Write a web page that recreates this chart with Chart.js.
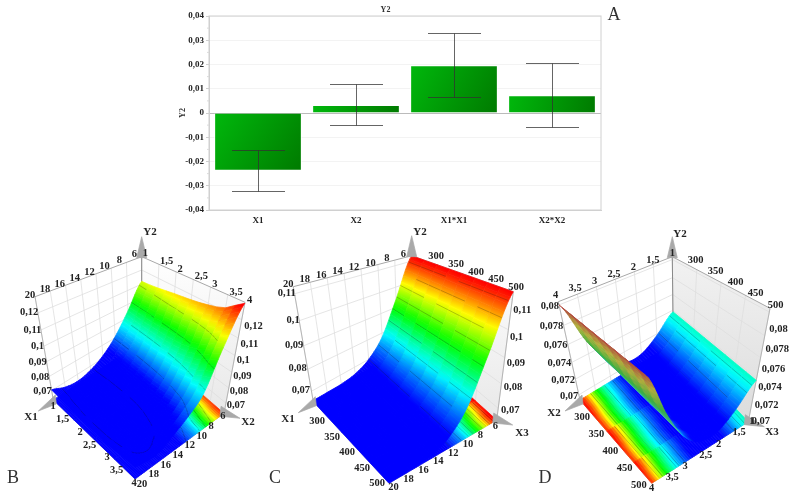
<!DOCTYPE html>
<html>
<head>
<meta charset="utf-8">
<title>Y2</title>
<script src="https://cdn.jsdelivr.net/npm/chart.js@4/dist/chart.umd.min.js"></script>
<style>
html, body { margin: 0; background: #fff; }
canvas { position: absolute; }
#scene { left: 0; top: 0; filter: blur(0.35px); }
#bars { left: 170px; top: 0; filter: blur(0.25px); }
</style>
</head>
<body>
<canvas id="scene" width="796" height="500"></canvas>
<canvas id="bars" width="440" height="228"></canvas>
<script>
// panel A
const factors = ['X1', 'X2', 'X1*X1', 'X2*X2'];
const effects = [-0.0238, 0.0033, 0.0197, 0.0073];
const errLow = [-0.0322, -0.0051, 0.0065, -0.0058];
const errHigh = [-0.0153, 0.0118, 0.0329, 0.0206];
const effectTicks = ['0,04', '0,03', '0,02', '0,01', '0', '-0,01', '-0,02', '-0,03', '-0,04'];

// tick lists of the 3D panels
const x1Ticks = [1, 1.5, 2, 2.5, 3, 3.5, 4];
const x2Ticks = [20, 18, 16, 14, 12, 10, 8, 6];
const x3Ticks = [300, 350, 400, 450, 500];
const x2TicksD = [4, 3.5, 3, 2.5, 2, 1.5, 1];
const zTicksB = [0.07, 0.08, 0.09, 0.1, 0.11, 0.12];
const zTicksC = [0.07, 0.08, 0.09, 0.1, 0.11];
const zTicksD = [0.07, 0.072, 0.074, 0.076, 0.078, 0.08];

// surface B: rows X1 (1..4), columns "20..6"
const surfaceB = [
  [0.0705, 0.0665, 0.0650, 0.0670, 0.0720, 0.0810, 0.0950, 0.1120],
  [0.0695, 0.0660, 0.0645, 0.0665, 0.0715, 0.0805, 0.0950, 0.1135],
  [0.0690, 0.0655, 0.0640, 0.0660, 0.0715, 0.0805, 0.0955, 0.1155],
  [0.0690, 0.0655, 0.0640, 0.0660, 0.0715, 0.0810, 0.0965, 0.1170],
  [0.0690, 0.0660, 0.0650, 0.0670, 0.0725, 0.0825, 0.0985, 0.1190],
  [0.0700, 0.0670, 0.0665, 0.0690, 0.0750, 0.0850, 0.1030, 0.1220],
  [0.0710, 0.0690, 0.0695, 0.0745, 0.0800, 0.0885, 0.1100, 0.1285]
];
// surface C: rows X3 (300..500), columns "20..6"
const surfaceC = [
  [0.0655, 0.0655, 0.0655, 0.0665, 0.0700, 0.0780, 0.0940, 0.1125],
  [0.0655, 0.0655, 0.0655, 0.0665, 0.0700, 0.0780, 0.0940, 0.1125],
  [0.0655, 0.0655, 0.0655, 0.0665, 0.0700, 0.0780, 0.0940, 0.1125],
  [0.0655, 0.0655, 0.0655, 0.0665, 0.0700, 0.0780, 0.0940, 0.1125],
  [0.0655, 0.0655, 0.0655, 0.0665, 0.0700, 0.0780, 0.0940, 0.1125]
];
// surface D: rows X3 (300..500), columns X2 (4..1)
const surfaceD = [
  [0.0800, 0.0755, 0.0722, 0.0706, 0.0705, 0.0718, 0.0738],
  [0.0800, 0.0755, 0.0722, 0.0706, 0.0705, 0.0718, 0.0738],
  [0.0800, 0.0755, 0.0722, 0.0706, 0.0705, 0.0718, 0.0738],
  [0.0800, 0.0755, 0.0722, 0.0706, 0.0705, 0.0718, 0.0738],
  [0.0800, 0.0755, 0.0722, 0.0706, 0.0705, 0.0718, 0.0738]
];
const contoursB = [0.0675, 0.08, 0.09, 0.1, 0.11];
const contoursC = [0.07, 0.075, 0.08, 0.085, 0.09, 0.095, 0.1, 0.105, 0.11];
const contoursD = [0.0712, 0.072, 0.073, 0.0735, 0.075, 0.076, 0.077, 0.078];

// label rows are [first tick, last tick] anchors, in 3x units from the panel's crop origin
const panels = [
  {
    table: surfaceB, uTicks: x1Ticks, vTicks: x2Ticks, zTicks: zTicksB, levels: contoursB,
    zBox: [0.063, 0.129], zColor: [0.075, 0.127], persp: 0.85, origin: [0, 225],
    floor: [[53.3, 400], [135, 479], [224, 413.3], [141.7, 341.7]],
    top: [[35, 296.7], [135, 366.7], [245, 302.3], [141.7, 256.7]],
    rows: {
      topV: [[90, 212], [403, 88]], topU: [[428, 85], [741, 225]],
      frontU: [[167, 545], [410, 775]], frontV: [[410, 778], [661, 575]],
      zLeft: [[155, 500], [115, 262]], zRight: [[680, 540], [733, 305]]
    },
    names: [['Y2', 150, 232], ['X1', 31, 417], ['X2', 248, 422]], letter: ['B', 13, 478], wall: ['#fff', '#e8e8e8']
  },
  {
    table: surfaceC, uTicks: x3Ticks, vTicks: x2Ticks, zTicks: zTicksC, levels: contoursC,
    zBox: [0.065, 0.1125], zColor: [0.0695, 0.112], persp: 0.85, origin: [265, 225],
    floor: [[313.3, 401.7], [389, 483.3], [496.7, 420], [411.7, 343.3]],
    top: [[293.3, 286.7], [380, 329.7], [513.3, 291.7], [411.7, 255.7]],
    rows: {
      topV: [[70, 177], [415, 88]], topU: [[490, 95], [730, 187]],
      frontU: [[180, 590], [360, 775]], frontV: [[370, 788], [683, 605]],
      zLeft: [[135, 495], [92, 205]], zRight: [[708, 555], [745, 255]]
    },
    names: [['Y2', 420, 232], ['X1', 288, 419], ['X3', 522, 433]], letter: ['C', 275, 478], wall: ['#fff', '#e8e8e8']
  },
  {
    table: surfaceD, uTicks: x3Ticks, vTicks: x2TicksD, zTicks: zTicksD, levels: contoursD,
    zBox: [0.0693, 0.0803], zColor: [0.071, 0.0802], persp: 0.83, origin: [535, 225],
    floor: [[580, 400], [651.7, 483.3], [748.3, 421.7], [673.3, 343.3]],
    top: [[558.3, 301.7], [646, 372], [770, 308.3], [672.3, 256.7]],
    rows: {
      topV: [[62, 210], [412, 85]], topU: [[458, 105], [698, 240]],
      frontU: [[165, 578], [335, 780]], frontV: [[342, 790], [643, 590]],
      zLeft: [[130, 515], [72, 245]], zRight: [[650, 590], [703, 312]]
    },
    names: [['Y2', 680, 234], ['X2', 554, 413], ['X3', 772, 432]], letter: ['D', 545, 478], wall: ['#f2f2f2', '#dcdcdc']
  }
];

const SERIF = '"Liberation Serif", serif';

// ---------- bar chart ----------
const barPlugin = {
  id: 'barExtras',
  beforeDatasetsDraw(chart) {
    const { ctx, chartArea: a, scales: { y } } = chart;
    ctx.save();
    ctx.strokeStyle = '#d0d0d0';
    ctx.strokeRect(a.left, a.top, a.width, a.height);
    // minor ticks
    ctx.strokeStyle = '#dadada';
    ctx.beginPath();
    for (let k = 0; k < effectTicks.length - 1; k++) {
      const p = y.getPixelForTick(k) + (y.getPixelForTick(k + 1) - y.getPixelForTick(k)) / 2;
      ctx.moveTo(a.left - 2, p); ctx.lineTo(a.left, p);
    }
    ctx.stroke();
    ctx.restore();
  },
  afterDatasetsDraw(chart) {
    const { ctx, scales: { x, y } } = chart;
    ctx.save();
    ctx.strokeStyle = 'rgba(50,50,50,0.75)';
    ctx.lineWidth = 1;
    factors.forEach((f, i) => {
      const px = Math.round(x.getPixelForValue(i)) + 0.5;
      const lo = Math.round(y.getPixelForValue(errLow[i])) + 0.5;
      const hi = Math.round(y.getPixelForValue(errHigh[i])) + 0.5;
      ctx.beginPath();
      ctx.moveTo(px, lo); ctx.lineTo(px, hi);
      ctx.moveTo(px - 26.5, lo); ctx.lineTo(px + 26.5, lo);
      ctx.moveTo(px - 26.5, hi); ctx.lineTo(px + 26.5, hi);
      ctx.stroke();
    });
    ctx.restore();
  }
};

new Chart(document.getElementById('bars'), {
  type: 'bar',
  plugins: [barPlugin],
  data: {
    labels: factors,
    datasets: [{
      data: effects,
      barPercentage: 0.895,
      categoryPercentage: 1,
      borderColor: 'rgba(255,255,255,0.85)',
      borderWidth: 1,
      borderSkipped: 'start',
      backgroundColor(c) {
        const { chart, dataIndex } = c;
        if (!chart.chartArea) return '#0a0';
        const mid = chart.scales.x.getPixelForValue(dataIndex);
        const y0 = chart.scales.y.getPixelForValue(effects[dataIndex]);
        const y1 = chart.scales.y.getPixelForValue(0);
        const g = chart.ctx.createLinearGradient(mid - 44, Math.min(y0, y1), mid + 44, Math.max(y0, y1));
        g.addColorStop(0, '#00b80c');
        g.addColorStop(1, '#007a00');
        return g;
      }
    }]
  },
  options: {
    responsive: false,
    animation: false,
    events: [],
    layout: { padding: { right: 9 } },
    plugins: {
      legend: false,
      tooltip: false,
      title: {
        display: true, text: 'Y2', color: '#333',
        font: { family: SERIF, size: 8, weight: 'bold', lineHeight: 1 },
        padding: { top: 6, bottom: 2 }
      }
    },
    scales: {
      x: {
        afterFit(s) { s.height = 18; },
        grid: { display: false, tickLength: 2 },
        border: { color: '#d0d0d0' },
        ticks: { color: '#222', padding: 3, font: { family: SERIF, size: 9, weight: 'bold' } }
      },
      y: {
        min: -0.04, max: 0.04,
        afterFit(s) { s.width = 39; },
        afterBuildTicks(s) { s.ticks = effectTicks.map((t, i) => ({ value: 0.04 - i * 0.01 })); },
        grid: {
          color: c => c.index === 4 ? '#bbbbbb' : '#f3f3f3',
          tickColor: '#cfcfcf', tickLength: 3
        },
        border: { color: '#d0d0d0' },
        title: {
          display: true, text: 'Y2', color: '#333',
          font: { family: SERIF, size: 8, weight: 'bold' }, padding: { top: 8, bottom: 0 }
        },
        ticks: {
          color: '#222', padding: 2, font: { family: SERIF, size: 9, weight: 'bold' },
          callback: (v, i) => effectTicks[i]
        }
      }
    }
  }
});

// ---------- 3D panels, projected onto one scatter chart ----------
const mix = (a, b, t) => a + (b - a) * t;
const RAINBOW = [[0, 0, 255], [0, 255, 255], [0, 255, 0], [255, 255, 0], [255, 0, 0]];
const sceneCtx = document.getElementById('scene').getContext('2d');

function rainbow(t, dull) {
  t = Math.max(0, Math.min(1, t)) * 4;
  const k = Math.min(3, Math.floor(t));
  const c = RAINBOW[k].map((v, n) => mix(mix(v, RAINBOW[k + 1][n], t - k), 128, dull ? 0.5 : 0) * (dull ? 0.92 : 1));
  return `rgb(${c.map(Math.round).join(',')})`;
}

function project(p, u, v, z) {
  let w = (z - p.zBox[0]) / (p.zBox[1] - p.zBox[0]);
  w = w * p.persp / (1 + w * (p.persp - 1));
  const q = corners => [0, 1].map(n => mix(
    mix(corners[0][n], corners[1][n], u),
    mix(corners[3][n], corners[2][n], u), v));
  const a = q(p.floor), b = q(p.top);
  return { x: mix(a[0], b[0], w), y: mix(a[1], b[1], w) };
}

function catmull(a, b, c, d, t) {
  return b + 0.5 * t * (c - a + t * (2 * a - 5 * b + 4 * c - d + t * (3 * (b - c) + d - a)));
}
function sample(table, fu, fv) {
  const at = (i, j) => table[Math.max(0, Math.min(table.length - 1, i))][Math.max(0, Math.min(table[0].length - 1, j))];
  const i = Math.min(table.length - 2, Math.floor(fu)), j = Math.min(table[0].length - 2, Math.floor(fv));
  const row = r => catmull(at(r, j - 1), at(r, j), at(r, j + 1), at(r, j + 2), fv - j);
  return catmull(row(i - 1), row(i), row(i + 1), row(i + 2), fu - i);
}

const layers = [];
const texts = [];

function polygon(pts, color) {
  layers.push({
    data: pts.concat([pts[0]]), showLine: true, fill: 'shape', clip: false,
    backgroundColor: color, borderColor: color, borderWidth: 0.7, pointRadius: 0
  });
}
function segment(pts, color, width) {
  layers.push({
    data: pts, showLine: true, fill: false, clip: false,
    borderColor: color, borderWidth: width, pointRadius: 0
  });
}

function isoSegment(cell, level) {
  const hits = [];
  for (let k = 0; k < 4; k++) {
    const [a, za] = cell[k], [b, zb] = cell[(k + 1) % 4];
    if ((za < level) !== (zb < level)) {
      const t = (level - za) / (zb - za);
      hits.push({ u: mix(a[0], b[0], t), v: mix(a[1], b[1], t) });
    }
  }
  return hits.length >= 2 ? hits.slice(0, 2) : null;
}

// shade a cell between the mean colours of its two v-edges
function cellShade(pts, zs, t, dull) {
  const ax = (pts[0].x + pts[1].x) / 2, ay = (pts[0].y + pts[1].y) / 2;
  const bx = (pts[2].x + pts[3].x) / 2, by = (pts[2].y + pts[3].y) / 2;
  const c0 = rainbow(t((zs[0] + zs[1]) / 2), dull), c1 = rainbow(t((zs[2] + zs[3]) / 2), dull);
  if (c0 === c1 || Math.hypot(bx - ax, by - ay) < 0.2) return c0;
  const g = sceneCtx.createLinearGradient(ax, ay, bx, by);
  g.addColorStop(0, c0);
  g.addColorStop(1, c1);
  return g;
}

function buildPanel(p) {
  const [zLo, zHi] = p.zBox;
  const [wallTop, wallLow] = p.wall;

  // back walls
  const grad = sceneCtx.createLinearGradient(0, p.top[3][1], 0, p.floor[2][1]);
  grad.addColorStop(0, wallTop);
  grad.addColorStop(1, wallLow);
  polygon([project(p, 0, 1, zLo), project(p, 1, 1, zLo), project(p, 1, 1, zHi), project(p, 0, 1, zHi)], grad);

  const gridColor = '#dedede';
  const uStep = 1 / (p.uTicks.length - 1), vStep = 1 / (p.vTicks.length - 1);
  p.vTicks.forEach((t, k) => segment([project(p, 0, k * vStep, zLo), project(p, 0, k * vStep, zHi)], gridColor, 0.8));
  p.uTicks.forEach((t, k) => segment([project(p, k * uStep, 1, zLo), project(p, k * uStep, 1, zHi)], gridColor, 0.8));
  p.zTicks.forEach(z => {
    segment([project(p, 0, 0, z), project(p, 0, 1, z)], gridColor, 0.8);
    segment([project(p, 0, 1, z), project(p, 1, 1, z)], gridColor, 0.8);
  });
  // box edges
  const edge = '#a8a8a8';
  segment([project(p, 0, 0, zHi), project(p, 0, 1, zHi), project(p, 1, 1, zHi)], edge, 1);
  segment([project(p, 0, 0, zLo), project(p, 0, 0, zHi)], edge, 0.8);
  segment([project(p, 1, 1, zLo), project(p, 1, 1, zHi)], edge, 0.8);
  segment([project(p, 0, 1, zLo), project(p, 0, 1, zHi)], '#888', 1);
  segment([project(p, 0, 0, zLo), project(p, 1, 0, zLo), project(p, 1, 1, zLo)], edge, 0.8);

  // mesh
  const rows = p.table.length - 1, cols = p.table[0].length - 1;
  const nu = rows * 2, nv = cols * 8;
  const zAt = (i, j) => sample(p.table, i / nu * rows, j / nv * cols);
  const t = z => (z - p.zColor[0]) / (p.zColor[1] - p.zColor[0]);

  const drawCells = floorMap => {
    const stepU = floorMap ? 3 : 1;
    for (let i = 0; i < nu; i += stepU) {
      for (let j = nv - 1; j >= 0; j--) {
        const i2 = Math.min(nu, i + stepU);
        const uv = [[i, j], [i2, j], [i2, j + 1], [i, j + 1]];
        const zs = uv.map(([a, b]) => zAt(a, b));
        const pts = uv.map(([a, b], n) => project(p, a / nu, b / nv, floorMap ? zLo : zs[n]));
        // the side of the sheet facing away from the camera is seen duller
        const area = (pts[1].x - pts[0].x) * (pts[3].y - pts[0].y) - (pts[1].y - pts[0].y) * (pts[3].x - pts[0].x);
        const under = !floorMap && area > 0;
        polygon(pts, cellShade(pts, zs, t, under));
        if (under) continue;
        const quad = uv.map(([a, b], n) => [[a, b], zs[n]]);
        p.levels.forEach((level, n) => {
          if ((i + n * 2) % 5 === 4) return; // broken contour line
          const hit = isoSegment(quad, level);
          if (!hit) return;
          const line = hit.map(h => project(p, h.u / nu, h.v / nv, floorMap ? zLo : level));
          segment(line, 'rgba(20,20,20,0.42)', 0.6);
        });
      }
    }
  };
  drawCells(true);
  drawCells(false);

  // arrows
  const arrow = '#a9a9a9';
  const back = project(p, 0, 1, zHi), left = project(p, 0, 0, zLo), right = project(p, 1, 1, zLo);
  polygon([{ x: back.x - 5, y: back.y + 1 }, { x: back.x + 5, y: back.y + 1 }, { x: back.x, y: back.y - 20 }], arrow);
  polygon([{ x: left.x + 2, y: left.y - 5 }, { x: left.x + 3, y: left.y + 4 }, { x: left.x - 15, y: left.y + 11 }], arrow);
  polygon([{ x: right.x - 3, y: right.y - 7 }, { x: right.x - 4, y: right.y + 3 }, { x: right.x + 16, y: right.y + 5 }], arrow);

  // tick labels along their rows
  const fmt = v => String(v).replace('.', ',');
  const place = (ticks, row, align, frac) => ticks.forEach((tick, k) => {
    const f = frac ? frac(tick) : k / (ticks.length - 1);
    texts.push({
      text: fmt(tick), align,
      x: p.origin[0] + mix(row[0][0], row[1][0], f) / 3,
      y: p.origin[1] + mix(row[0][1], row[1][1], f) / 3
    });
  });
  const zFrac = z => {
    const f = (z - p.zTicks[0]) / (p.zTicks[p.zTicks.length - 1] - p.zTicks[0]);
    return f * 0.87 / (1 - 0.13 * f);
  };
  place(p.vTicks, p.rows.topV, 'center');
  place(p.uTicks, p.rows.topU, 'left');
  place(p.uTicks, p.rows.frontU, 'right');
  place(p.vTicks, p.rows.frontV, 'left');
  place(p.zTicks, p.rows.zLeft, 'right', zFrac);
  place(p.zTicks, p.rows.zRight, 'left', zFrac);
}

panels.forEach(buildPanel);

const scenePlugin = {
  id: 'sceneText',
  afterDatasetsDraw(chart) {
    const { ctx, scales: { x, y } } = chart;
    ctx.save();
    ctx.textBaseline = 'middle';
    ctx.fillStyle = '#222';
    ctx.font = `bold 10.5px ${SERIF}`;
    texts.forEach(t => {
      ctx.textAlign = t.align;
      ctx.fillText(t.text, x.getPixelForValue(t.x), y.getPixelForValue(t.y));
    });
    ctx.textAlign = 'center';
    ctx.font = `bold 11px ${SERIF}`;
    panels.forEach(p => p.names.forEach(([s, px, py]) => ctx.fillText(s, x.getPixelForValue(px), y.getPixelForValue(py))));
    ctx.fillStyle = '#333';
    ctx.font = `18px ${SERIF}`;
    panels.forEach(p => ctx.fillText(p.letter[0], x.getPixelForValue(p.letter[1]), y.getPixelForValue(p.letter[2])));
    ctx.fillText('A', x.getPixelForValue(614), y.getPixelForValue(15));
    ctx.restore();
  }
};

// Chart.js paints the first dataset last, so the back-to-front list is reversed
new Chart(document.getElementById('scene'), {
  type: 'scatter',
  plugins: [scenePlugin],
  data: { datasets: layers.slice().reverse() },
  options: {
    responsive: false,
    animation: false,
    events: [],
    plugins: { legend: false, tooltip: false, title: false },
    scales: {
      x: { type: 'linear', display: false, min: 0, max: 796 },
      y: { type: 'linear', display: false, min: 0, max: 500, reverse: true }
    }
  }
});
</script>
</body>
</html>
